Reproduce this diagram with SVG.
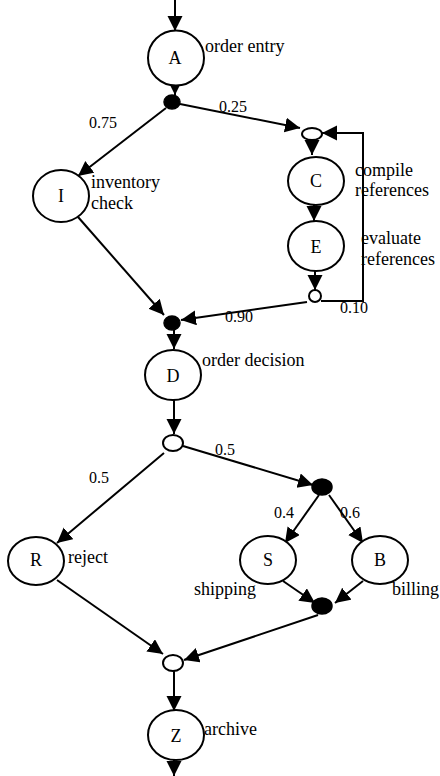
<svg xmlns="http://www.w3.org/2000/svg" width="440" height="776" viewBox="0 0 440 776">
  <style>
    .node { fill: #ffffff; stroke: #000000; stroke-width: 2; }
    .dot { fill: #000000; stroke: #000000; stroke-width: 1.5; }
    .open { fill: #ffffff; stroke: #000000; stroke-width: 2; }
    .edge { fill: none; stroke: #000000; stroke-width: 2; marker-end: url(#arrow); }
    .id { font-family: "Liberation Serif", "Times New Roman", serif; font-size: 18px; text-anchor: middle; fill: #000; }
    .lbl { font-family: "Liberation Serif", "Times New Roman", serif; font-size: 18px; fill: #000; }
    .p { font-family: "Liberation Serif", "Times New Roman", serif; font-size: 16px; fill: #000; }
  </style>
  <defs>
    <marker id="arrow" markerUnits="userSpaceOnUse" markerWidth="16" markerHeight="16" refX="15" refY="7.5" orient="auto">
      <path d="M0,0 L15,7.5 L0,15 z" fill="#000000"/>
    </marker>
  </defs>
  <rect width="440" height="776" fill="#ffffff"/>

  <g id="connectors">
    <line class="edge" x1="175" y1="0" x2="175" y2="31"/>
    <line class="edge" x1="175" y1="86" x2="175" y2="95"/>
    <line class="edge" x1="166" y1="108" x2="78" y2="176"/>
    <line class="edge" x1="180" y1="104" x2="300" y2="128"/>
    <line class="edge" x1="312" y1="140" x2="312" y2="155"/>
    <line class="edge" x1="314" y1="205" x2="314" y2="221"/>
    <line class="edge" x1="315" y1="271" x2="315" y2="290"/>
    <polyline class="edge" points="321,301 363,301 363,133 322,133"/>
    <line class="edge" x1="307" y1="302" x2="181" y2="320"/>
    <line class="edge" x1="78" y1="217" x2="164" y2="315"/>
    <line class="edge" x1="174" y1="330" x2="174" y2="349"/>
    <line class="edge" x1="174" y1="400" x2="174" y2="434"/>
    <line class="edge" x1="164" y1="453" x2="57" y2="543"/>
    <line class="edge" x1="183" y1="446" x2="313" y2="485"/>
    <line class="edge" x1="319" y1="495" x2="285" y2="543"/>
    <line class="edge" x1="329" y1="495" x2="363" y2="543"/>
    <line class="edge" x1="283" y1="581" x2="315" y2="603"/>
    <line class="edge" x1="363" y1="581" x2="335" y2="603"/>
    <line class="edge" x1="318" y1="615" x2="184" y2="660"/>
    <line class="edge" x1="57" y1="580" x2="163" y2="654"/>
    <line class="edge" x1="174" y1="671" x2="174" y2="711"/>
    <line class="edge" x1="174" y1="760" x2="174" y2="776"/>
  </g>

  <g id="probabilities">
    <text class="p" x="89" y="128">0.75</text>
    <text class="p" x="219" y="112">0.25</text>
    <text class="p" x="225" y="322">0.90</text>
    <text class="p" x="340" y="313">0.10</text>
    <text class="p" x="89" y="483">0.5</text>
    <text class="p" x="215" y="455">0.5</text>
    <text class="p" x="274" y="518">0.4</text>
    <text class="p" x="340" y="518">0.6</text>
  </g>

  <g id="A">
    <ellipse class="node" cx="176" cy="58" rx="28" ry="27.5"/>
    <text class="id" x="175" y="64">A</text>
    <text class="lbl" x="205" y="52">order entry</text>
  </g>
  <g id="split1"><ellipse class="dot" cx="172" cy="102" rx="8" ry="7"/></g>
  <g id="I">
    <ellipse class="node" cx="61" cy="196" rx="28" ry="26"/>
    <text class="id" x="61" y="202">I</text>
    <text class="lbl" x="91" y="188">inventory</text>
    <text class="lbl" x="91" y="209">check</text>
  </g>
  <g id="merge1"><ellipse class="open" cx="312" cy="134" rx="10" ry="6"/></g>
  <g id="C">
    <ellipse class="node" cx="316" cy="181" rx="28" ry="24"/>
    <text class="id" x="316" y="187">C</text>
    <text class="lbl" x="355" y="176">compile</text>
    <text class="lbl" x="355" y="196">references</text>
  </g>
  <g id="E">
    <ellipse class="node" cx="316" cy="246" rx="28" ry="25"/>
    <text class="id" x="316" y="253">E</text>
    <text class="lbl" x="361" y="244">evaluate</text>
    <text class="lbl" x="361" y="265">references</text>
  </g>
  <g id="split2"><circle class="open" cx="315" cy="296" r="6"/></g>
  <g id="join1"><ellipse class="dot" cx="172" cy="323" rx="8" ry="7"/></g>
  <g id="D">
    <ellipse class="node" cx="173" cy="375" rx="28" ry="25"/>
    <text class="id" x="173" y="382">D</text>
    <text class="lbl" x="202" y="366">order decision</text>
  </g>
  <g id="split3"><ellipse class="open" cx="173" cy="443" rx="10" ry="8"/></g>
  <g id="fork1"><ellipse class="dot" cx="322" cy="487" rx="10" ry="8"/></g>
  <g id="R">
    <ellipse class="node" cx="36" cy="561" rx="28" ry="24"/>
    <text class="id" x="36" y="566">R</text>
    <text class="lbl" x="68" y="563">reject</text>
  </g>
  <g id="S">
    <ellipse class="node" cx="268" cy="560" rx="28" ry="24"/>
    <text class="id" x="268" y="566">S</text>
    <text class="lbl" x="194" y="595">shipping</text>
  </g>
  <g id="B">
    <ellipse class="node" cx="380" cy="560" rx="28" ry="24"/>
    <text class="id" x="380" y="566">B</text>
    <text class="lbl" x="392" y="595">billing</text>
  </g>
  <g id="join2"><ellipse class="dot" cx="322" cy="606" rx="10" ry="8"/></g>
  <g id="merge2"><ellipse class="open" cx="173" cy="663" rx="10" ry="8"/></g>
  <g id="Z">
    <ellipse class="node" cx="176" cy="735" rx="28" ry="25"/>
    <text class="id" x="176" y="742">Z</text>
    <text class="lbl" x="204" y="735">archive</text>
  </g>
</svg>
